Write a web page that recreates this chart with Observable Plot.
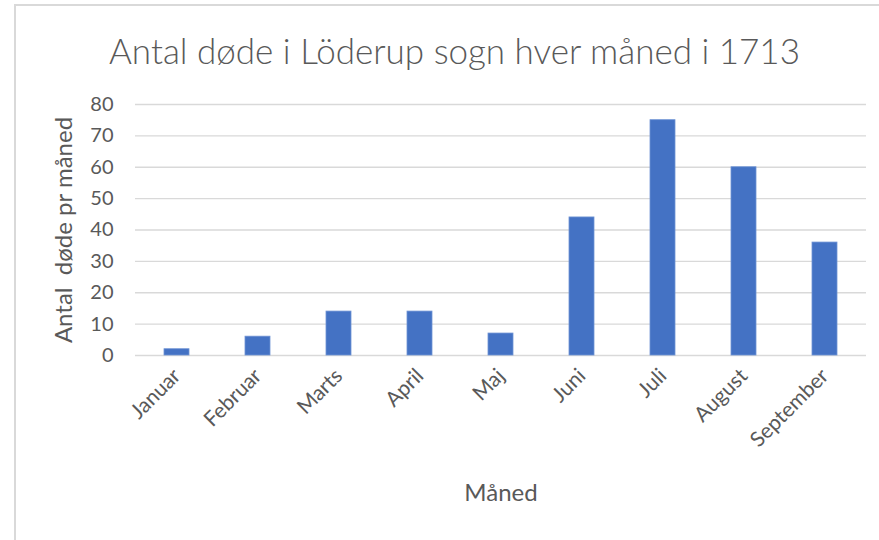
<!DOCTYPE html>
<html>
<head>
<meta charset="utf-8">
<script src="https://cdn.jsdelivr.net/npm/d3@7"></script>
<script src="https://cdn.jsdelivr.net/npm/@observablehq/plot@0.6"></script>
<style>
  html, body { margin: 0; padding: 0; background: #fff; overflow: hidden; }
  #wrap { position: relative; width: 879px; height: 540px; overflow: hidden; font-family: Lato, "Open Sans", sans-serif; }
  #border { position: absolute; left: 14px; top: 4px; width: 900px; height: 600px; border-left: 2px solid #d9d9d9; border-top: 2px solid #d9d9d9; }
  #title { position: absolute; left: 0; top: 33px; width: 909px; text-align: center; font-size: 35px; font-weight: 300; line-height: 1; color: #595959; white-space: nowrap; }
  #chart { position: absolute; left: 0; top: 0; }
</style>
</head>
<body>
<div id="wrap">
  <div id="border"></div>
  <div id="chart"></div>
  <div id="title">Antal døde i Löderup sogn hver måned i 1713</div>
</div>
<script>
const months = ["Januar", "Februar", "Marts", "April", "Maj", "Juni", "Juli", "August", "September"];
const deaths = [2, 6, 14, 14, 7, 44, 75, 60, 36];
const yTicks = [0, 10, 20, 30, 40, 50, 60, 70, 80];
const xLabel = "Måned";
const yLabel = "Antal  døde pr måned";

const data = months.map((m, i) => ({month: m, value: deaths[i]}));

const chart = Plot.plot({
  width: 879,
  height: 540,
  marginLeft: 135,
  marginRight: 13,
  marginTop: 104,
  marginBottom: 185,
  style: {fontFamily: "Lato, 'Open Sans', sans-serif", color: "#595959", background: "transparent"},
  x: {domain: months, paddingInner: 0.686, paddingOuter: 0.343},
  y: {domain: [0, 80]},
  marks: [
    Plot.ruleY(yTicks, {stroke: "#d9d9d9", strokeWidth: 1.3, strokeOpacity: 1}),
    Plot.barY(data, {x: "month", y: "value", fill: "#4472c4", stroke: "#6f93d4", strokeWidth: 0.8}),
    Plot.axisY({ticks: yTicks, tickSize: 0, tickPadding: 22, fontSize: 20, label: yLabel, labelAnchor: "center", labelOffset: 81, labelArrow: "none"}),
    Plot.axisX({tickSize: 0, tickPadding: 17, tickRotate: -45, fontSize: 21, label: xLabel, labelAnchor: "center", labelOffset: 145, labelArrow: "none"})
  ]
});
chart.querySelectorAll("[aria-label='y-axis label']").forEach(g => g.setAttribute("font-size", "24"));
chart.querySelectorAll("[aria-label='x-axis label']").forEach(g => g.setAttribute("font-size", "24"));
document.getElementById("chart").appendChild(chart);
</script>
</body>
</html>
